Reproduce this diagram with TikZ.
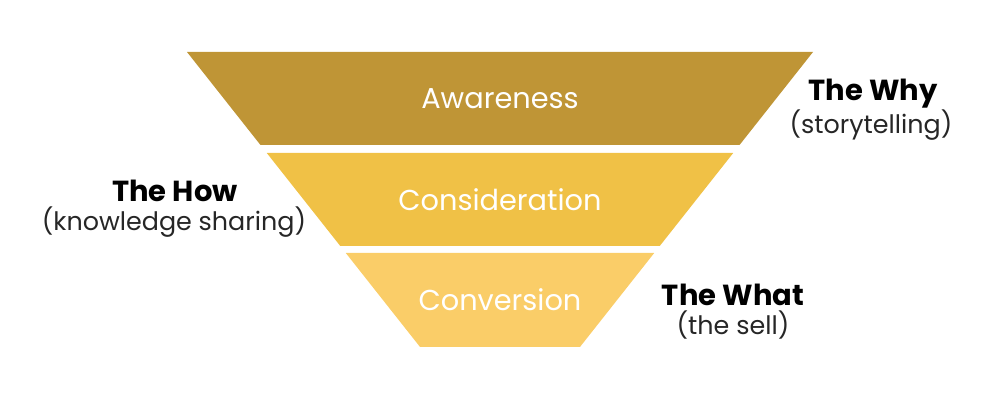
\documentclass[tikz,border=0pt]{standalone}
\usepackage{fontspec}
\setmainfont{Poppins}
\usetikzlibrary{positioning}

\definecolor{awarecol}{RGB}{191,149,54}
\definecolor{considcol}{RGB}{240,193,70}
\definecolor{convcol}{RGB}{250,205,104}

\begin{document}
\begin{tikzpicture}[x=0.5pt, y=-0.5pt,
    stagetext/.style={text=white, font=\fontsize{14.4}{16}\selectfont},
    headtext/.style={text=black, font=\fontsize{14.5}{16}\selectfont\bfseries},
    subtext/.style={text=black!85, font=\fontsize{12.7}{15}\selectfont}]
  \useasboundingbox (0,0) rectangle (1000,400);

  % funnel tiers
  \foreach \ytop/\ybot/\col/\txt/\nm in {52/145/awarecol/Awareness/aware,
      153/246/considcol/Consideration/consid,
      253/347/convcol/Conversion/conv} {
    \pgfmathsetmacro{\wtop}{313-0.79*(\ytop-52)}
    \pgfmathsetmacro{\wbot}{313-0.79*(\ybot-52)}
    \fill[\col] ({500-\wtop}, \ytop) -- ({500+\wtop}, \ytop)
      -- ({500+\wbot}, \ybot) -- ({500-\wbot}, \ybot) -- cycle;
    \node[stagetext] (\nm) at (500, {(\ytop+\ybot)/2}) {\txt};
  }

  % side labels
  \node[headtext] (why) at (873, 94) {The Why};
  \node[subtext] (whysub) at (871, 125) {(storytelling)};

  \node[headtext] (how) at (175, 191) {The How};
  \node[subtext] (howsub) at (174, 222) {(knowledge sharing)};

  \node[headtext] (what) at (733, 295) {The What};
  \node[subtext] (whatsub) at (733, 325) {(the sell)};
\end{tikzpicture}
\end{document}
